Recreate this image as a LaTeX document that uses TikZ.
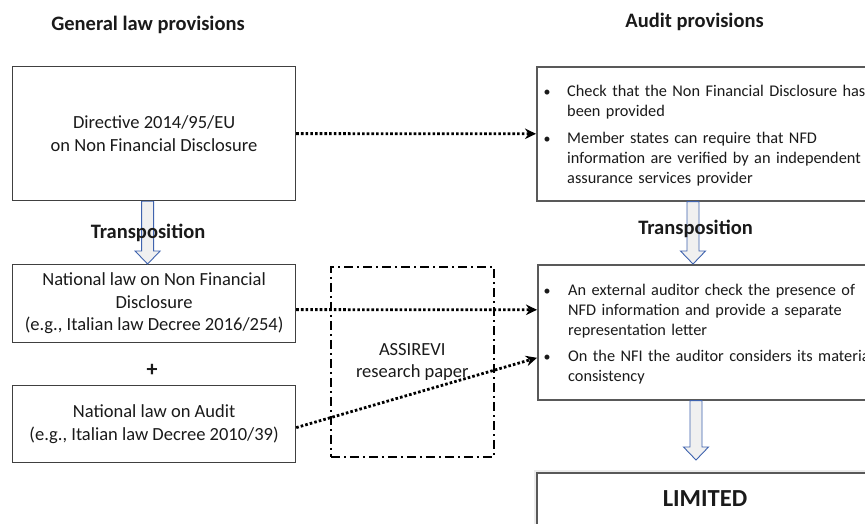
\documentclass[tikz,border=0pt]{standalone}
\usepackage{fontspec}
\setmainfont{Carlito}
\usetikzlibrary{arrows.meta,calc,shadows}
\definecolor{boxgray}{HTML}{404040}
\definecolor{rgray}{HTML}{595959}
\definecolor{arblue}{HTML}{3F63AE}
\definecolor{arfill}{HTML}{F0F0F0}
\definecolor{txt}{HTML}{1A1A1A}
\newcommand\harrow[3]{%
  \draw[hollow] let \p1=($(#1)+(#3,0)$), \p2=(#2) in
    (\x1-6pt,\y1) -- (\x1-6pt,\y2+13pt) -- (\x1-12.5pt,\y2+13pt) -- (\x1,\y2)
    -- (\x1+12.5pt,\y2+13pt) -- (\x1+6pt,\y2+13pt) -- (\x1+6pt,\y1) -- cycle;}
\begin{document}
\begin{tikzpicture}[x=1pt,y=-1pt,
  every node/.style={text=txt},
  title/.style={font=\bfseries\fontsize{20.5}{24}\selectfont, inner sep=0},
  lbox/.style={draw=boxgray, line width=1.2pt, minimum width=283pt, align=center,
    inner sep=0, anchor=north west, font=\fontsize{18.5}{22.5}\selectfont},
  rbox/.style={draw=rgray, line width=1.6pt, fill=white, inner sep=0, anchor=north west,
    minimum width=344pt,
    drop shadow={shadow xshift=1.5pt, shadow yshift=-1.5pt, opacity=.3}},
  ddbox/.style={draw=black, line width=1.6pt, dash pattern=on 9pt off 4pt on 2pt off 4pt,
    minimum width=163pt, minimum height=190pt, anchor=north west, align=center,
    inner sep=0, font=\fontsize{18.5}{22}\selectfont},
  bul/.style={anchor=base, inner sep=0, font=\fontsize{14}{20}\selectfont},
  btext/.style={anchor=base west, inner sep=0, align=left, text width=330pt,
    font=\fontsize{16.3}{20}\selectfont},
  dotarrow/.style={line width=2.8pt, dash pattern=on 2.6pt off 2.1pt,
    -{Stealth[length=11pt,width=10.5pt,inset=3.5pt]}},
  hollow/.style={draw=arblue, line width=0.9pt, fill=arfill}]
\useasboundingbox (0,0) rectangle (865,523);
\clip (0,0) rectangle (865,523);
\fill[white] (0,0) rectangle (865,523);

% titles
\node[title] (t1) at (148,25) {General law provisions};
\node[title] (t2) at (694.5,22) {Audit provisions};

% left boxes
\node[lbox, minimum height=134pt] (b1) at (12,66) {Directive 2014/95/EU\\on Non Financial Disclosure};
\node[lbox, minimum height=78pt] (b2) at (12,264) {National law on Non Financial\\Disclosure\\(e.g., Italian law Decree 2016/254)};
\node[lbox, minimum height=77pt] (b3) at (12,385) {National law on Audit\\(e.g., Italian law Decree 2010/39)};
\node[font=\bfseries\fontsize{22}{24}\selectfont, inner sep=0] (plus) at (152,370) {+};

% research paper box
\node[ddbox] (ar) at (330,266) {ASSIREVI\\research paper};

% right boxes
\node[rbox, minimum height=134pt] (rb1) at (536,66) {};
\node[rbox, minimum height=135pt] (rb2) at (537,264) {};
\node[rbox, minimum height=90pt,
  drop shadow={shadow xshift=-3pt, shadow yshift=3pt, opacity=.15}] (lim) at (536,472) {};
\node[font=\bfseries\fontsize{24.5}{28}\selectfont, inner sep=0] (limt) at (705,499) {LIMITED};

% bullets box 1
\node[bul] (r1b1) at (547,96.5) {\textbullet};
\node[btext] (r1i1) at (567,96.5) {Check that the Non Financial Disclosure has\\been provided};
\node[bul] (r1b2) at (547,143.5) {\textbullet};
\node[btext] (r1i2) at (567,143.5) {Member states can require that NFD\\information are verified by an independent\\assurance services provider};

% bullets box 2
\node[bul] (r2b1) at (547,295.5) {\textbullet};
\node[btext] (r2i1) at (568,295.5) {An external auditor check the presence of\\NFD information and provide a separate\\representation letter};
\node[bul] (r2b2) at (547,361.5) {\textbullet};
\node[btext] (r2i2) at (568,361.5) {On the NFI the auditor considers its material\\consistency};

% hollow arrows
\harrow{b1.south}{b2.north}{-6.5}
\harrow{rb1.south west}{rb2.north}{157}
\harrow{rb2.south west}{$(lim.north)+(0,-12)$}{159}

% transposition labels
\node[title] (tr1) at (148,233) {Transposition};
\node[title] (tr2) at (695.5,229) {Transposition};

% dotted arrows
\draw[dotarrow] (b1.east) -- (rb1.west);
\draw[dotarrow] ($(b2.east)+(0,6)$) -- ($(rb2.west)+(0,-22.5)$);
\draw[dotarrow] ($(b3.east)+(0,3.5)$) -- ($(rb2.west)+(0,25.5)$);
\end{tikzpicture}
\end{document}
